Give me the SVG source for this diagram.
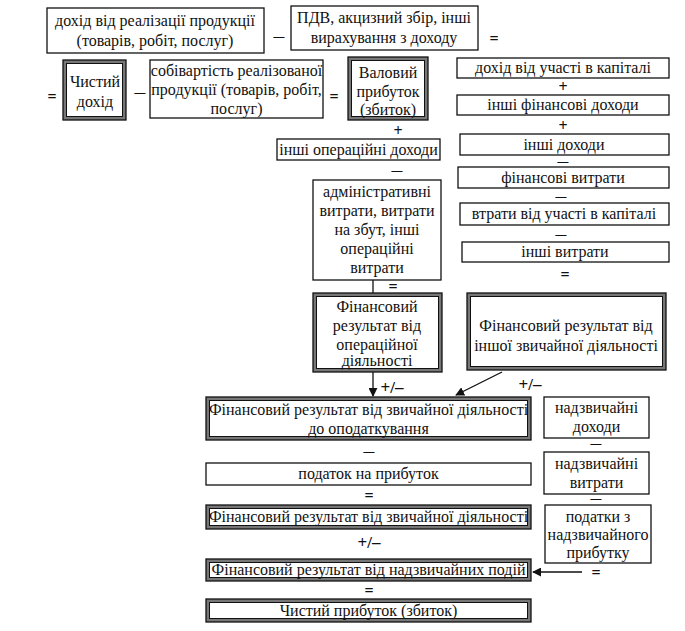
<svg xmlns="http://www.w3.org/2000/svg" width="685" height="631" viewBox="0 0 685 631" font-family="'Liberation Serif', 'DejaVu Serif', serif">
<style>
text{font-family:'Liberation Serif','DejaVu Serif',serif;font-size:16px;fill:#111;text-anchor:middle}
.op{font-size:16px;font-weight:bold}
.mn{font-size:12px;font-weight:bold}
.pm{font-size:17px;font-weight:bold}
.b{fill:#fff;stroke:#111;stroke-width:1.3}
.do{fill:#777;stroke:#111;stroke-width:1.3}
.di{fill:#fff;stroke:#111;stroke-width:1}
.ln{stroke:#111;stroke-width:1.3;fill:none}
</style>
<defs>
<marker id="ah" viewBox="0 0 10 10" refX="9" refY="5" markerWidth="9" markerHeight="9" orient="auto" markerUnits="userSpaceOnUse"><path d="M0,0 L10,5 L0,10 z" fill="#111"/></marker>
</defs>
<rect width="685" height="631" fill="#fff"/>

<g id="connectors">
<line class="ln" x1="373" y1="280" x2="373" y2="293"/>
<line class="ln" x1="373" y1="372" x2="373" y2="396" marker-end="url(#ah)"/>
<line class="ln" x1="502" y1="372" x2="456" y2="395" marker-end="url(#ah)"/>
<line class="ln" x1="582" y1="572" x2="533" y2="572" marker-end="url(#ah)"/>
</g>

<g id="operators">
<text class="mn" transform="translate(279,40) scale(1.8,1)">–</text>
<text class="op" x="494" y="44">=</text>
<text class="op" x="52" y="102">=</text>
<text class="mn" transform="translate(140,96) scale(1.8,1)">–</text>
<text class="op" x="334" y="102">=</text>
<text class="op" x="563" y="92">+</text>
<text class="op" x="563" y="131">+</text>
<text class="mn" transform="translate(563,165) scale(1.8,1)">–</text>
<text class="mn" transform="translate(561,200) scale(1.8,1)">–</text>
<text class="mn" transform="translate(561,238) scale(1.8,1)">–</text>
<text class="op" x="565" y="280">=</text>
<text class="op" x="398" y="136">+</text>
<text class="mn" transform="translate(397,174) scale(1.8,1)">–</text>
<text class="op" x="393" y="292">=</text>
<text class="pm" x="392" y="393">+/–</text>
<text class="pm" x="530" y="390">+/–</text>
<text class="mn" transform="translate(369,455) scale(1.8,1)">–</text>
<text class="op" x="369" y="501">=</text>
<text class="pm" x="369" y="548">+/–</text>
<text class="op" x="369" y="596">=</text>
<text class="mn" transform="translate(596,447) scale(1.8,1)">–</text>
<text class="mn" transform="translate(596,502) scale(1.8,1)">–</text>
<text class="op" x="596" y="578">=</text>
</g>

<g id="revenue">
<rect class="b" x="47" y="8" width="217" height="45"/>
<text x="155" y="26">дохід від реалізації продукції</text>
<text x="155" y="46">(товарів, робіт, послуг)</text>
</g>
<g id="vat">
<rect class="b" x="291" y="6" width="187" height="44"/>
<text x="384" y="23">ПДВ, акцизний збір, інші</text>
<text x="384" y="43">вирахування з доходу</text>
</g>
<g id="net-income">
<rect class="do" x="63" y="60" width="63" height="60"/>
<rect class="di" x="66.5" y="63.5" width="56" height="53"/>
<text x="95" y="87">Чистий</text>
<text x="95" y="107">дохід</text>
</g>
<g id="cost">
<rect class="b" x="150" y="60" width="173" height="58"/>
<text x="236.5" y="76">собівартість реалізованої</text>
<text x="236.5" y="95">продукції (товарів, робіт,</text>
<text x="236.5" y="114">послуг)</text>
</g>
<g id="gross-profit">
<rect class="do" x="348" y="57" width="80" height="63"/>
<rect class="di" x="351.5" y="60.5" width="73" height="56"/>
<text x="388" y="78">Валовий</text>
<text x="388" y="97">прибуток</text>
<text x="388" y="115">(збиток)</text>
</g>

<g id="equity-income">
<rect class="b" x="457" y="58" width="212" height="20"/>
<text x="563" y="73">дохід від участі в капіталі</text>
</g>
<g id="other-fin-income">
<rect class="b" x="457" y="95" width="212" height="20"/>
<text x="563" y="110">інші фінансові доходи</text>
</g>
<g id="other-income">
<rect class="b" x="460" y="134" width="209" height="21"/>
<text x="564" y="150">інші доходи</text>
</g>
<g id="fin-expenses">
<rect class="b" x="458" y="167" width="211" height="21"/>
<text x="563" y="183">фінансові витрати</text>
</g>
<g id="equity-loss">
<rect class="b" x="460" y="203" width="209" height="22"/>
<text x="564" y="219">втрати від участі в капіталі</text>
</g>
<g id="other-expenses">
<rect class="b" x="462" y="242" width="207" height="20"/>
<text x="565" y="257">інші витрати</text>
</g>

<g id="other-op-income">
<rect class="b" x="277" y="139" width="163" height="21"/>
<text x="358.5" y="155">інші операційні доходи</text>
</g>
<g id="admin-expenses">
<rect class="b" x="313" y="180" width="128" height="100"/>
<text x="377" y="197">адміністративні</text>
<text x="377" y="216">витрати, витрати</text>
<text x="377" y="235">на збут, інші</text>
<text x="377" y="254">операційні</text>
<text x="377" y="273">витрати</text>
</g>
<g id="op-result">
<rect class="do" x="313" y="293" width="129" height="79"/>
<rect class="di" x="316.5" y="296.5" width="122" height="72"/>
<text x="377" y="312">Фінансовий</text>
<text x="377" y="331">результат від</text>
<text x="377" y="350">операційної</text>
<text x="377" y="366">діяльності</text>
</g>
<g id="other-ordinary-result">
<rect class="do" x="467" y="293" width="199" height="77"/>
<rect class="di" x="470.5" y="296.5" width="192" height="70"/>
<text x="566" y="331">Фінансовий результат від</text>
<text x="566" y="351">іншої звичайної діяльності</text>
</g>

<g id="pretax-result">
<rect class="do" x="206" y="397" width="325" height="43"/>
<rect class="di" x="209.5" y="400.5" width="318" height="36"/>
<text x="368.5" y="415">Фінансовий результат від звичайної діяльності</text>
<text x="368.5" y="434">до оподаткування</text>
</g>
<g id="income-tax">
<rect class="b" x="206" y="463" width="325" height="22"/>
<text x="368.5" y="479">податок на прибуток</text>
</g>
<g id="ordinary-result">
<rect class="do" x="206" y="505" width="325" height="24"/>
<rect class="di" x="209.5" y="508.5" width="318" height="17"/>
<text x="368.5" y="522">Фінансовий результат від звичайної діяльності</text>
</g>
<g id="extraordinary-result">
<rect class="do" x="206" y="559" width="325" height="22"/>
<rect class="di" x="209.5" y="562.5" width="318" height="15"/>
<text x="368.5" y="575">Фінансовий результат від надзвичайних подій</text>
</g>
<g id="net-profit">
<rect class="do" x="206" y="599" width="325" height="23"/>
<rect class="di" x="209.5" y="602.5" width="318" height="16"/>
<text x="368.5" y="616">Чистий прибуток (збиток)</text>
</g>

<g id="extra-income">
<rect class="b" x="544" y="397" width="105" height="41"/>
<text x="596.5" y="413">надзвичайні</text>
<text x="596.5" y="432">доходи</text>
</g>
<g id="extra-expenses">
<rect class="b" x="544" y="452" width="105" height="42"/>
<text x="596.5" y="469">надзвичайні</text>
<text x="596.5" y="488">витрати</text>
</g>
<g id="extra-tax">
<rect class="b" x="545" y="505" width="106" height="58"/>
<text x="598" y="522">податки з</text>
<text x="598" y="540">надзвичайного</text>
<text x="598" y="558">прибутку</text>
</g>
</svg>
